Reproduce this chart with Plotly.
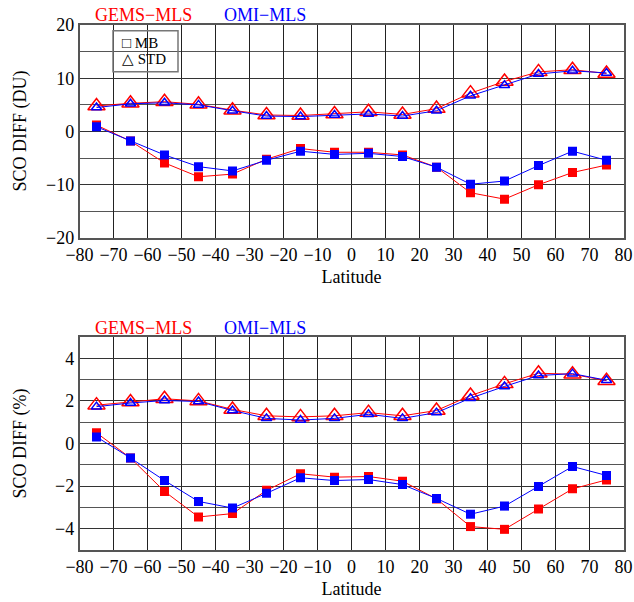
import plotly.graph_objects as go

lat = [-75, -65, -55, -45, -35, -25, -15, -5, 5, 15, 25, 35, 45, 55, 65, 75]

# Top panel: SCO difference in DU
gems_mb_du = [1.2, -1.8, -5.9, -8.5, -8.0, -5.2, -3.2, -3.9, -3.9, -4.4, -6.7, -11.5, -12.7, -10.0, -7.7, -6.3]
omi_mb_du = [0.9, -1.8, -4.4, -6.6, -7.4, -5.4, -3.7, -4.3, -4.1, -4.7, -6.7, -9.9, -9.3, -6.4, -3.7, -5.4]
gems_std_du = [4.8, 5.3, 5.6, 5.1, 4.0, 3.1, 3.0, 3.3, 3.7, 3.2, 4.3, 7.2, 9.4, 11.2, 11.6, 10.9]
omi_std_du = [4.5, 5.2, 5.4, 5.0, 3.9, 2.9, 2.8, 3.1, 3.3, 2.9, 3.9, 6.7, 8.7, 10.8, 11.4, 11.0]

# Bottom panel: SCO difference in %
gems_mb_pct = [0.5, -0.68, -2.25, -3.45, -3.29, -2.2, -1.42, -1.58, -1.55, -1.77, -2.6, -3.9, -4.03, -3.08, -2.13, -1.71]
omi_mb_pct = [0.31, -0.68, -1.74, -2.72, -3.03, -2.34, -1.61, -1.74, -1.69, -1.93, -2.58, -3.32, -2.94, -2.02, -1.08, -1.5]
gems_std_pct = [1.8, 1.95, 2.1, 2.0, 1.6, 1.3, 1.25, 1.3, 1.45, 1.3, 1.55, 2.25, 2.8, 3.3, 3.25, 2.95]
omi_std_pct = [1.73, 1.9, 2.02, 1.97, 1.55, 1.18, 1.1, 1.18, 1.37, 1.18, 1.45, 2.13, 2.68, 3.19, 3.28, 2.97]

x_ticks = list(range(-80, 81, 10))
x_ticklabels = ["\u221280", "\u221270", "\u221260", "\u221250", "\u221240", "\u221230", "\u221220", "\u221210",
                "0", "10", "20", "30", "40", "50", "60", "70", "80"]

RED = "#ff0000"
BLUE = "#0000ff"
FONT = "Liberation Serif"
W, H = 634, 602

fig = go.Figure()

def add_panel(ax, mb_g, mb_o, sd_g, sd_o):
    xa, ya = ("x", "y") if ax == 1 else ("x2", "y2")
    fig.add_trace(go.Scatter(x=lat, y=sd_g, mode="lines+markers", xaxis=xa, yaxis=ya,
                             line=dict(color=RED, width=1),
                             marker=dict(symbol="triangle-up-open", size=15, color=RED, line=dict(width=1.5, color=RED)),
                             showlegend=False))
    fig.add_trace(go.Scatter(x=lat, y=sd_o, mode="lines+markers", xaxis=xa, yaxis=ya,
                             line=dict(color=BLUE, width=1),
                             marker=dict(symbol="triangle-up-open", size=9, color=BLUE, line=dict(width=1.5, color=BLUE)),
                             showlegend=False))
    fig.add_trace(go.Scatter(x=lat, y=mb_g, mode="lines+markers", xaxis=xa, yaxis=ya,
                             line=dict(color=RED, width=1),
                             marker=dict(symbol="square", size=9, color=RED, line=dict(width=0)),
                             showlegend=False))
    fig.add_trace(go.Scatter(x=lat, y=mb_o, mode="lines+markers", xaxis=xa, yaxis=ya,
                             line=dict(color=BLUE, width=1),
                             marker=dict(symbol="square", size=9, color=BLUE, line=dict(width=0)),
                             showlegend=False))

add_panel(1, gems_mb_du, omi_mb_du, gems_std_du, omi_std_du)
add_panel(2, gems_mb_pct, omi_mb_pct, gems_std_pct, omi_std_pct)

xdom = [79.5 / W, 623.5 / W]
top_dom = [1 - 238 / H, 1 - 25 / H]
bot_dom = [1 - 550 / H, 1 - 337 / H]

xcommon = dict(range=[-80, 80], tickvals=x_ticks, ticktext=x_ticklabels, showgrid=True, automargin=False,
               gridcolor="#222", gridwidth=1, showline=True, linecolor="#555", linewidth=1.5, mirror=True,
               ticks="", zeroline=False, tickfont=dict(family=FONT, size=18, color="black"),
               title=dict(text="Latitude", font=dict(family=FONT, size=18, color="black"), standoff=6))
ycommon = dict(showgrid=True, gridcolor="#333", gridwidth=1, showline=True, linecolor="#555", linewidth=1.5,
               mirror=True, ticks="", zeroline=False, automargin=False,
               tickfont=dict(family=FONT, size=18, color="black"))

fig.update_layout(
    width=W, height=H, margin=dict(l=0, r=0, t=0, b=0),
    paper_bgcolor="white", plot_bgcolor="white",
    xaxis=dict(domain=xdom, anchor="y", **xcommon),
    xaxis2=dict(domain=xdom, anchor="y2", **xcommon),
    yaxis=dict(domain=top_dom, anchor="x", range=[-20, 20], tickvals=[-20, -10, 0, 10, 20],
               ticktext=["\u221220", "\u221210", "0", "10", "20"],
               minor=dict(dtick=5, tick0=0, showgrid=True, gridcolor="#555", gridwidth=1), **ycommon),
    yaxis2=dict(domain=bot_dom, anchor="x2", range=[-5, 5], tickvals=[-4, -2, 0, 2, 4],
                ticktext=["\u22124", "\u22122", "0", "2", "4"],
                minor=dict(dtick=1, tick0=0, showgrid=True, gridcolor="#555", gridwidth=1), **ycommon),
)

def px_to_paper(xp, yp):
    return xp / W, 1 - yp / H

annots = []
for (xp, yp, txt, col) in [(143.5, 15, "GEMS\u2212MLS", RED), (264.5, 15, "OMI\u2212MLS", BLUE),
                           (143.5, 328, "GEMS\u2212MLS", RED), (264.5, 328, "OMI\u2212MLS", BLUE)]:
    xpp, ypp = px_to_paper(xp, yp)
    annots.append(dict(x=xpp, y=ypp, xref="paper", yref="paper", text=txt, showarrow=False,
                       font=dict(family=FONT, size=18, color=col), xanchor="center", yanchor="middle"))

for (yp, txt) in [(131.5, "SCO DIFF (DU)"), (443.5, "SCO DIFF (%)")]:
    xpp, ypp = px_to_paper(20, yp)
    annots.append(dict(x=xpp, y=ypp, xref="paper", yref="paper", text=txt, showarrow=False, textangle=-90,
                       font=dict(family=FONT, size=18, color="black"), xanchor="center", yanchor="middle"))

# legend box (transparent, border only) with two text lines
for (yp, txt) in [(42.5, "\u25a1 MB"), (59, "\u25b3 STD")]:
    xpp, ypp = px_to_paper(121, yp)
    annots.append(dict(x=xpp, y=ypp, xref="paper", yref="paper", text=txt, showarrow=False, borderpad=0,
                       xanchor="left", yanchor="middle", font=dict(family=FONT, size=15, color="black")))

x0, y1 = px_to_paper(113, 30.7)
x1, y0 = px_to_paper(178, 71.7)
fig.add_shape(type="rect", xref="paper", yref="paper", x0=x0, x1=x1, y0=y0, y1=y1,
              line=dict(color="#777", width=1.5), fillcolor="rgba(0,0,0,0)")

fig.update_layout(annotations=annots)
fig.write_html("out.html", config={"displayModeBar": False},
               post_script="document.body.style.margin='0';document.body.style.overflow='hidden';")
